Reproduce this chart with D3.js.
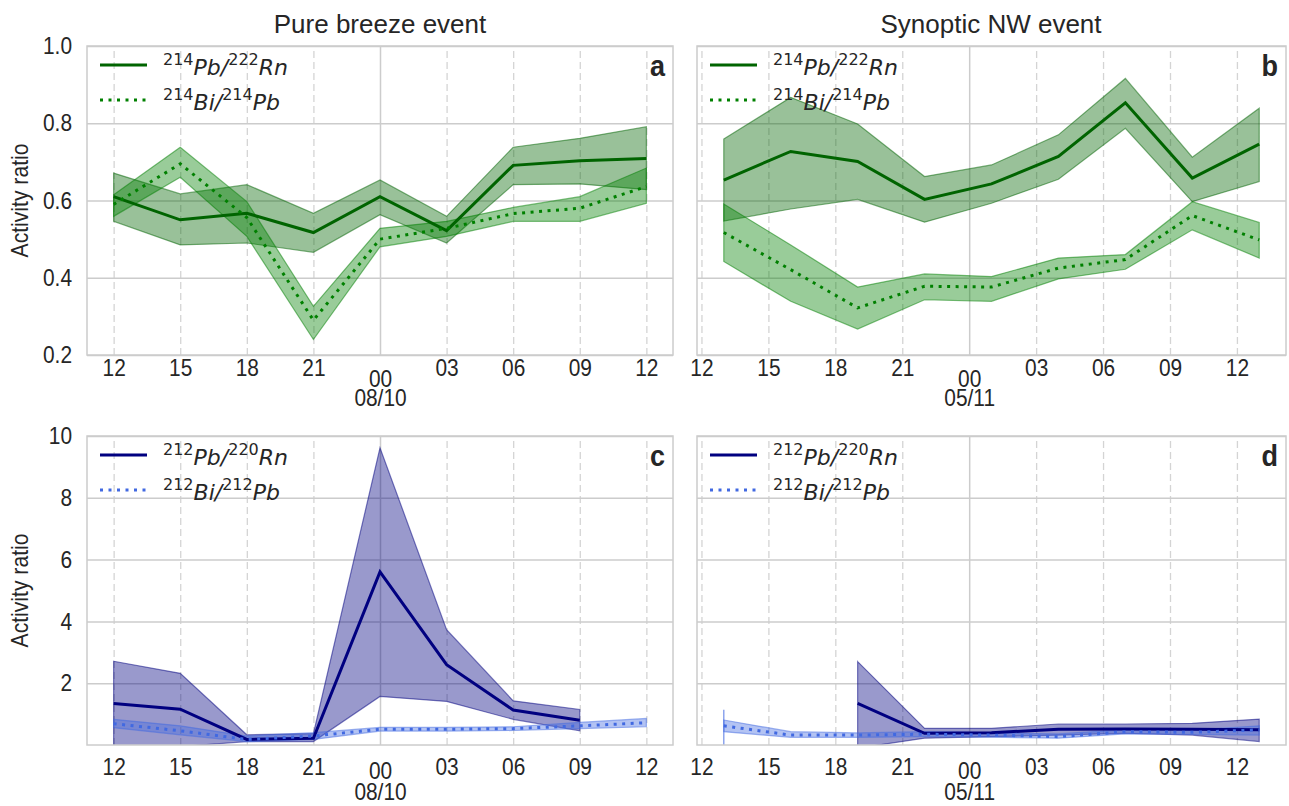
<!DOCTYPE html>
<html>
<head>
<meta charset="utf-8">
<script src="https://cdn.jsdelivr.net/npm/d3@7/dist/d3.min.js"></script>
<style>
  body { margin: 0; background: #fff; }
  text { fill: #262626; }
</style>
</head>
<body>
<svg id="chart" width="1289" height="806"></svg>
<script>
// hours counted from 00 of the first day
var hoursA = [12, 15, 18, 21, 24, 27, 30, 33, 36];
var hoursB = [13, 16, 19, 22, 25, 28, 31, 34, 37];
var tickHours = [12, 15, 18, 21, 24, 27, 30, 33, 36];
var topTicks = [0.2, 0.4, 0.6, 0.8, 1.0];
var bottomTicks = [2, 4, 6, 8, 10];

// a: pure breeze, 222Rn chain
var aPbRn   = [0.610, 0.550, 0.567, 0.517, 0.610, 0.522, 0.691, 0.703, 0.709];
var aPbRnLo = [0.546, 0.485, 0.490, 0.466, 0.563, 0.490, 0.641, 0.643, 0.628];
var aPbRnHi = [0.671, 0.617, 0.641, 0.567, 0.653, 0.559, 0.738, 0.761, 0.791];
var aBiPb   = [0.590, 0.695, 0.556, 0.290, 0.500, 0.528, 0.566, 0.580, 0.636];
var aBiPbLo = [0.559, 0.660, 0.507, 0.240, 0.480, 0.507, 0.546, 0.546, 0.593];
var aBiPbHi = [0.615, 0.738, 0.597, 0.326, 0.528, 0.546, 0.582, 0.610, 0.684];

// b: synoptic NW, 222Rn chain
var bPbRn   = [0.653, 0.727, 0.701, 0.603, 0.643, 0.714, 0.853, 0.658, 0.746];
var bPbRnLo = [0.547, 0.578, 0.603, 0.544, 0.593, 0.655, 0.787, 0.597, 0.649];
var bPbRnHi = [0.759, 0.867, 0.798, 0.662, 0.692, 0.770, 0.916, 0.712, 0.839];
var bBiPb   = [0.517, 0.421, 0.322, 0.378, 0.376, 0.425, 0.447, 0.561, 0.498];
var bBiPbLo = [0.442, 0.339, 0.267, 0.343, 0.339, 0.397, 0.422, 0.524, 0.451];
var bBiPbHi = [0.591, 0.485, 0.376, 0.410, 0.403, 0.451, 0.460, 0.597, 0.543];

// c: pure breeze, 220Rn chain
var cPbRn   = [1.34, 1.16, 0.18, 0.22, 5.60, 2.60, 1.13, 0.80, null];
var cPbRnLo = [-0.10, -0.05, 0.11, 0.11, 1.57, 1.41, 0.83, 0.46, null];
var cPbRnHi = [2.71, 2.32, 0.33, 0.37, 9.62, 3.73, 1.43, 1.15, null];
var cBiPb   = [0.69, 0.46, 0.18, 0.29, 0.51, 0.51, 0.53, 0.62, 0.72];
var cBiPbLo = [0.56, 0.33, 0.11, 0.18, 0.45, 0.45, 0.47, 0.53, 0.59];
var cBiPbHi = [0.83, 0.62, 0.29, 0.40, 0.57, 0.57, 0.59, 0.73, 0.86];

// d: synoptic NW, 220Rn chain
var dPbRn   = [null, null, 1.35, 0.38, 0.40, 0.51, 0.52, 0.51, 0.49];
var dPbRnLo = [null, null, -0.10, 0.22, 0.27, 0.32, 0.38, 0.32, 0.11];
var dPbRnHi = [null, null, 2.70, 0.54, 0.54, 0.68, 0.68, 0.70, 0.84];
var dBiPb   = [0.62, 0.32, 0.32, 0.35, 0.32, 0.27, 0.43, 0.41, 0.49];
var dBiPbLo = [0.43, 0.25, 0.25, 0.27, 0.25, 0.22, 0.36, 0.34, 0.32];
var dBiPbHi = [0.81, 0.43, 0.39, 0.43, 0.39, 0.36, 0.50, 0.48, 0.62];
var dBiPbBar = [0, 1.14];   // error bar at first point (13h)

var GRID = "#cccccc";
var TICK_SQ = 0.87;   // tick labels are a bit narrow
var TICK_FS = 24;
var FONT = "Liberation Sans, Arial, sans-serif";

var svg = d3.select("#chart");

function hh(h) { return d3.format("02d")(h % 24); }

function drawPanel(cfg) {
    var g = svg.append("g");
    var x = d3.scaleLinear().domain(cfg.xDomain).range([cfg.x0, cfg.x1]);
    var y = d3.scaleLinear().domain(cfg.yDomain).range([cfg.y1, cfg.y0]);
    var h = cfg.y1 - cfg.y0, w = cfg.x1 - cfg.x0;

    // minor x grid (dashed)
    var minor = g.append("g").attr("transform", "translate(0," + cfg.y1 + ")")
        .call(d3.axisBottom(x).tickValues(tickHours.filter(function (t) { return t % 24 != 0; }))
            .tickSize(-h).tickFormat(""));
    minor.select(".domain").remove();
    minor.selectAll("line").attr("stroke", "#d4d4d4").attr("stroke-width", 1.3).attr("stroke-dasharray", "7,4");

    // major x grid
    var major = g.append("g").attr("transform", "translate(0," + cfg.y1 + ")")
        .call(d3.axisBottom(x).tickValues([24]).tickSize(-h).tickFormat(""));
    major.select(".domain").remove();
    major.selectAll("line").attr("stroke", GRID).attr("stroke-width", 1.5);

    // y grid
    var yg = g.append("g").attr("transform", "translate(" + cfg.x0 + ",0)")
        .call(d3.axisLeft(y).tickValues(cfg.yTicks).tickSize(-w).tickFormat(""));
    yg.select(".domain").remove();
    yg.selectAll("line").attr("stroke", GRID).attr("stroke-width", 1.5);

    var clipId = "clip" + cfg.letter;
    svg.append("clipPath").attr("id", clipId).append("rect")
        .attr("x", cfg.x0).attr("y", cfg.y0).attr("width", w).attr("height", h);
    var plot = g.append("g").attr("clip-path", "url(#" + clipId + ")");

    cfg.series.forEach(function (s) {
        var rows = cfg.hours.map(function (t, i) {
            return {t: t, v: s.mid[i], lo: s.lo[i], hi: s.hi[i]};
        });
        var area = d3.area().defined(function (d) { return d.lo != null; })
            .x(function (d) { return x(d.t); })
            .y0(function (d) { return y(d.lo); })
            .y1(function (d) { return y(d.hi); });
        plot.append("path").datum(rows).attr("d", area)
            .attr("fill", s.fill).attr("fill-opacity", 0.4)
            .attr("stroke", s.fill).attr("stroke-opacity", 0.5).attr("stroke-width", 1.2);
        s.rows = rows;
    });
    if (cfg.bar) {
        plot.append("line").attr("x1", x(cfg.bar.t)).attr("x2", x(cfg.bar.t))
            .attr("y1", y(cfg.bar.v[0])).attr("y2", y(cfg.bar.v[1]))
            .attr("stroke", cfg.bar.color).attr("stroke-opacity", 0.6).attr("stroke-width", 1.5);
    }
    cfg.series.forEach(function (s) {
        var line = d3.line().defined(function (d) { return d.v != null; })
            .x(function (d) { return x(d.t); })
            .y(function (d) { return y(d.v); });
        plot.append("path").datum(s.rows).attr("d", line)
            .attr("fill", "none").attr("stroke", s.color).attr("stroke-width", 3)
            .attr("stroke-dasharray", s.dotted ? "3,5.5" : null);
    });

    // frame
    g.append("rect").attr("x", cfg.x0).attr("y", cfg.y0).attr("width", w).attr("height", h)
        .attr("fill", "none").attr("stroke", GRID).attr("stroke-width", 1.5);

    // x tick labels ("00" carries the date on a second line)
    var xa = g.append("g").attr("transform", "translate(0," + cfg.y1 + ")")
        .call(d3.axisBottom(x).tickValues(tickHours).tickSize(0).tickFormat(hh));
    xa.select(".domain").remove();
    xa.selectAll("text").attr("font-family", FONT)
        .attr("font-size", TICK_FS).attr("fill", "#262626")
        .attr("y", function (d) { return d == 24 ? cfg.majorDy : cfg.minorDy; })
        .attr("dy", "0.35em")
        .attr("transform", "scale(" + TICK_SQ + ",1)");
    var majorLabel = xa.selectAll(".tick").filter(function (d) { return d == 24; }).select("text");
    majorLabel.text(null);
    majorLabel.append("tspan").attr("x", 0).text("00");
    majorLabel.append("tspan").attr("x", 0).attr("dy", cfg.dateDy - cfg.majorDy).text(cfg.date);

    // y tick labels
    if (cfg.yLabels) {
        var ya = g.append("g").attr("transform", "translate(" + cfg.x0 + ",0)")
            .call(d3.axisLeft(y).tickValues(cfg.yTicks).tickSize(0).tickPadding(15)
                .tickFormat(cfg.yFormat));
        ya.select(".domain").remove();
        ya.selectAll("text").attr("font-family", FONT)
            .attr("font-size", TICK_FS).attr("fill", "#262626")
            .attr("x", -15 / TICK_SQ)
            .attr("transform", "scale(" + TICK_SQ + ",1)");
        svg.append("text").attr("transform", "translate(20," + (cfg.y0 + h / 2) + ") rotate(-90) scale(0.92,1)")
            .attr("text-anchor", "middle").attr("dy", "0.35em").attr("font-family", FONT)
            .attr("font-size", 23).text("Activity ratio");
    }

    // panel letter
    svg.append("text").attr("x", (cfg.x1 - 8) / 0.9).attr("y", cfg.y0 + 30)
        .attr("transform", "scale(0.9,1)")
        .attr("text-anchor", "end").attr("font-family", FONT)
        .attr("font-weight", "bold").attr("font-size", 30).text(cfg.letter);

    // legend
    cfg.series.forEach(function (s, i) {
        var ly = cfg.y0 + 19 + i * 35;
        svg.append("line").attr("x1", cfg.x0 + 13).attr("x2", cfg.x0 + 60)
            .attr("y1", ly).attr("y2", ly).attr("stroke", s.color).attr("stroke-width", 3)
            .attr("stroke-dasharray", s.dotted ? "3,5.5" : null);
        var t = svg.append("text").attr("x", cfg.x0 + 76).attr("y", ly + 10)
            .attr("font-family", "DejaVu Sans, sans-serif").attr("font-size", 22);
        t.append("tspan").attr("font-size", 16).attr("dy", -10).text(s.label[0]);
        t.append("tspan").attr("font-style", "italic").attr("dy", 10).text(s.label[1] + "/");
        t.append("tspan").attr("font-size", 16).attr("dy", -10).text(s.label[2]);
        t.append("tspan").attr("font-style", "italic").attr("dy", 10).text(s.label[3]);
    });
}

// titles
svg.append("text").attr("x", 380).attr("y", 33).attr("text-anchor", "middle")
    .attr("font-family", FONT).attr("font-size", 26)
    .text("Pure breeze event");
svg.append("text").attr("x", 991).attr("y", 33).attr("text-anchor", "middle")
    .attr("font-family", FONT).attr("font-size", 26)
    .text("Synoptic NW event");

var fmtTop = d3.format(".1f");
var fmtBottom = d3.format("d");

var top0 = 46, top1 = 355, bot0 = 436, bot1 = 745;
var left = {x0: 87, x1: 673, xDomain: [10.8, 37.2], hours: hoursA, date: "08/10", yLabels: true};
var right = {x0: 697, x1: 1286, xDomain: [11.8, 38.2], hours: hoursB, date: "05/11", yLabels: false};

function greenSeries(mid, lo, hi, mid2, lo2, hi2) {
    return [
        {mid: mid, lo: lo, hi: hi, color: "#006400", fill: "#006400", dotted: false, label: ["214", "Pb", "222", "Rn"]},
        {mid: mid2, lo: lo2, hi: hi2, color: "#008000", fill: "#008000", dotted: true, label: ["214", "Bi", "214", "Pb"]}
    ];
}
function blueSeries(mid, lo, hi, mid2, lo2, hi2) {
    return [
        {mid: mid, lo: lo, hi: hi, color: "#000080", fill: "#000080", dotted: false, label: ["212", "Pb", "220", "Rn"]},
        {mid: mid2, lo: lo2, hi: hi2, color: "#4169e1", fill: "#4169e1", dotted: true, label: ["212", "Bi", "212", "Pb"]}
    ];
}

drawPanel(Object.assign({}, left, {letter: "a", y0: top0, y1: top1, yDomain: [0.2, 1.0], yTicks: topTicks,
    yFormat: fmtTop, minorDy: 13, majorDy: 24, dateDy: 43,
    series: greenSeries(aPbRn, aPbRnLo, aPbRnHi, aBiPb, aBiPbLo, aBiPbHi)}));
drawPanel(Object.assign({}, right, {letter: "b", y0: top0, y1: top1, yDomain: [0.2, 1.0], yTicks: topTicks,
    yFormat: fmtTop, minorDy: 13, majorDy: 24, dateDy: 43,
    series: greenSeries(bPbRn, bPbRnLo, bPbRnHi, bBiPb, bBiPbLo, bBiPbHi)}));
drawPanel(Object.assign({}, left, {letter: "c", y0: bot0, y1: bot1, yDomain: [0, 10], yTicks: bottomTicks,
    yFormat: fmtBottom, minorDy: 22, majorDy: 26, dateDy: 47,
    series: blueSeries(cPbRn, cPbRnLo, cPbRnHi, cBiPb, cBiPbLo, cBiPbHi)}));
drawPanel(Object.assign({}, right, {letter: "d", y0: bot0, y1: bot1, yDomain: [0, 10], yTicks: bottomTicks,
    yFormat: fmtBottom, minorDy: 22, majorDy: 26, dateDy: 47,
    bar: {t: 13, v: dBiPbBar, color: "#4169e1"},
    series: blueSeries(dPbRn, dPbRnLo, dPbRnHi, dBiPb, dBiPbLo, dBiPbHi)}));
</script>
</body>
</html>
